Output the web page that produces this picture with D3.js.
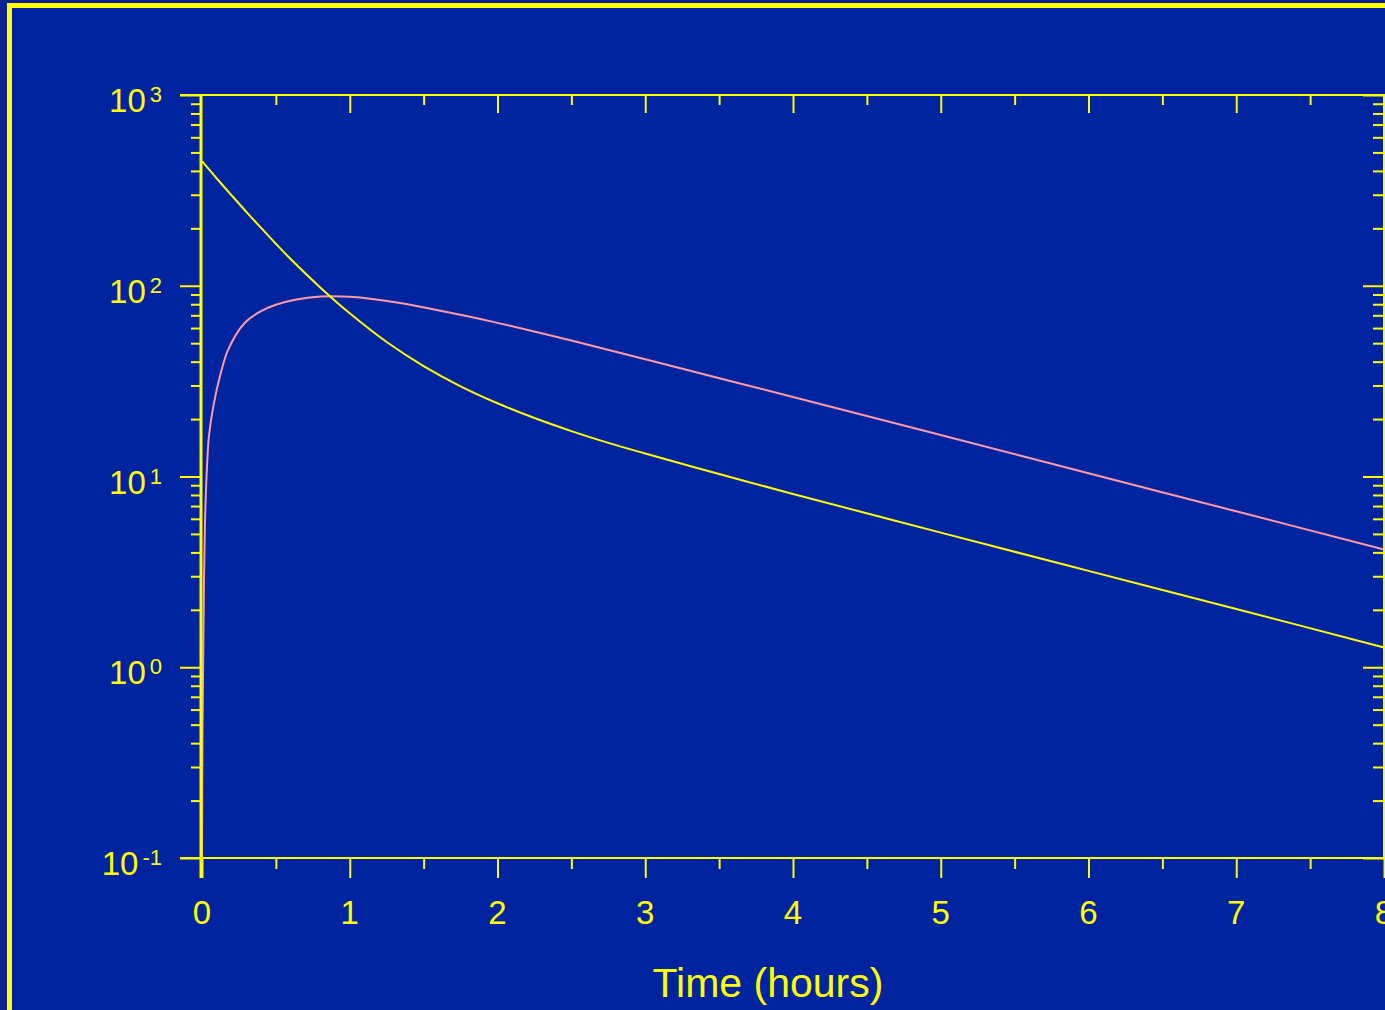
<!DOCTYPE html>
<html>
<head>
<meta charset="utf-8">
<script src="https://cdn.jsdelivr.net/npm/d3@7"></script>
<style>
  html, body { margin: 0; padding: 0; background: #0b2291; overflow: hidden; }
  svg { display: block; }
  text { font-family: "Liberation Sans", Arial, sans-serif; fill: #ffff00; }
</style>
</head>
<body>
<script>
// ---- data ----
const xTickValues = [0, 1, 2, 3, 4, 5, 6, 7, 8];
const xTickLabels = ["0", "1", "2", "3", "4", "5", "6", "7", "8"];
const xMinorTicks = [0.5, 1.5, 2.5, 3.5, 4.5, 5.5, 6.5, 7.5];
const yTickValues = [0.1, 1, 10, 100, 1000];
const yTickExponents = ["-1", "0", "1", "2", "3"];
const xTitle = "Time (hours)";

// yellow curve (declining from t=0)
const yellowTime = [0, 0.1, 0.2, 0.3, 0.4, 0.5, 0.6, 0.8, 1, 1.25, 1.5, 1.75, 2, 2.25, 2.5, 2.75, 3, 3.5, 4, 5, 6, 7, 8];
const yellowConc = [450, 365, 298, 244, 201, 166, 138, 98, 71.7, 50.7, 37.9, 29.7, 24.2, 20.25, 17.3, 15.0, 13.2, 10.3, 8.1, 5.08, 3.2, 2.02, 1.27];

// pink curve (rise then fall)
const pinkTime = [0, 0.003, 0.009, 0.0135, 0.02, 0.032, 0.047, 0.077, 0.122, 0.178, 0.29, 0.4, 0.5, 0.63, 0.8, 1, 1.34, 1.79, 2, 2.5, 3, 4, 5, 6, 7, 8];
const pinkConc = [0.1, 0.45, 1.29, 2.88, 5.7, 10.5, 16.3, 23.4, 33.6, 46.4, 64, 73.6, 79.5, 84.5, 87.8, 87.6, 81.3, 69.4, 63.9, 51.6, 41.2, 26.1, 16.5, 10.4, 6.57, 4.14];

// ---- layout ----
const W = 1385, H = 1010;
const mLeft = 202, mRight = 1384, mTop = 95, mBottom = 858;
const YELLOW = "#ffff00", PINK = "#ff9aa8";

const svg = d3.select("body").append("svg").attr("width", W).attr("height", H);

// frame
svg.append("rect").attr("x", 9.5).attr("y", 5.5).attr("width", 2000).attr("height", 2000)
  .attr("fill", "#0024a0").attr("stroke", YELLOW).attr("stroke-width", 5);

const x = d3.scaleLinear().domain([0, 8]).range([mLeft, mRight]);
const y = d3.scaleLog().domain([0.1, 1000]).range([mBottom, mTop]);

// minor ticks for log axis
const yMinor = [];
for (let e = -1; e < 3; e++) for (let m = 2; m <= 9; m++) yMinor.push(m * Math.pow(10, e));

// curves
const line = d3.line().x(d => x(d[0])).y(d => y(d[1])).curve(d3.curveCatmullRom.alpha(0.5));
svg.append("path").datum(pinkTime.map((t, i) => [t, pinkConc[i]]))
  .attr("d", line).attr("fill", "none").attr("stroke", PINK).attr("stroke-width", 2);
svg.append("path").datum(yellowTime.map((t, i) => [t, yellowConc[i]]))
  .attr("d", line).attr("fill", "none").attr("stroke", YELLOW).attr("stroke-width", 2);

function styleAxis(g, w) {
  g.select(".domain").remove();
  g.selectAll(".tick line").attr("stroke", YELLOW).attr("stroke-width", w || 2);
  g.selectAll(".tick text").remove();
}

// left axis
svg.append("g").attr("transform", `translate(${mLeft},0)`)
  .call(d3.axisLeft(y).tickValues(yTickValues).tickSize(22).tickFormat(""))
  .call(g => styleAxis(g));
svg.append("g").attr("transform", `translate(${mLeft},0)`)
  .call(d3.axisLeft(y).tickValues(yMinor).tickSize(11).tickFormat(""))
  .call(g => styleAxis(g));
// right axis (ticks inward)
svg.append("g").attr("transform", `translate(${mRight},0)`)
  .call(d3.axisLeft(y).tickValues(yTickValues).tickSize(21).tickFormat(""))
  .call(g => styleAxis(g));
svg.append("g").attr("transform", `translate(${mRight},0)`)
  .call(d3.axisLeft(y).tickValues(yMinor).tickSize(11).tickFormat(""))
  .call(g => styleAxis(g));
// bottom axis (ticks outward)
svg.append("g").attr("transform", `translate(0,${mBottom})`)
  .call(d3.axisBottom(x).tickValues(xTickValues).tickSize(20).tickFormat(""))
  .call(g => styleAxis(g));
svg.append("g").attr("transform", `translate(0,${mBottom})`)
  .call(d3.axisBottom(x).tickValues(xMinorTicks).tickSize(11).tickFormat(""))
  .call(g => styleAxis(g));
// top axis (ticks inward)
svg.append("g").attr("transform", `translate(0,${mTop})`)
  .call(d3.axisBottom(x).tickValues(xTickValues.slice(1, -1)).tickSize(18).tickFormat(""))
  .call(g => styleAxis(g));
svg.append("g").attr("transform", `translate(0,${mTop})`)
  .call(d3.axisBottom(x).tickValues(xMinorTicks).tickSize(10).tickFormat(""))
  .call(g => styleAxis(g));

// axis frame lines
svg.append("line").attr("x1", 180).attr("x2", W).attr("y1", mTop).attr("y2", mTop)
  .attr("stroke", YELLOW).attr("stroke-width", 2);
svg.append("line").attr("x1", 180).attr("x2", W).attr("y1", mBottom).attr("y2", mBottom)
  .attr("stroke", YELLOW).attr("stroke-width", 2);
svg.append("line").attr("x1", mLeft - 1).attr("x2", mLeft - 1).attr("y1", mTop).attr("y2", mBottom + 20)
  .attr("stroke", YELLOW).attr("stroke-width", 3);
svg.append("line").attr("x1", mRight).attr("x2", mRight).attr("y1", mTop).attr("y2", mBottom)
  .attr("stroke", YELLOW).attr("stroke-width", 2);

// y labels
yTickValues.forEach((v, i) => {
  const t = svg.append("text").attr("x", 162).attr("y", y(v) + 17)
    .attr("text-anchor", "end").style("font-size", "33px");
  t.append("tspan").text("10");
  t.append("tspan").attr("dx", 4).attr("dy", -10).style("font-size", "22px").text(yTickExponents[i]);
});

// x labels
xTickValues.forEach((v, i) => {
  svg.append("text").attr("x", x(v)).attr("y", 924).attr("text-anchor", "middle")
    .style("font-size", "33px").text(xTickLabels[i]);
});

// x title
svg.append("text").attr("x", 768).attr("y", 997).attr("text-anchor", "middle")
  .style("font-size", "41px").text(xTitle);
</script>
</body>
</html>
